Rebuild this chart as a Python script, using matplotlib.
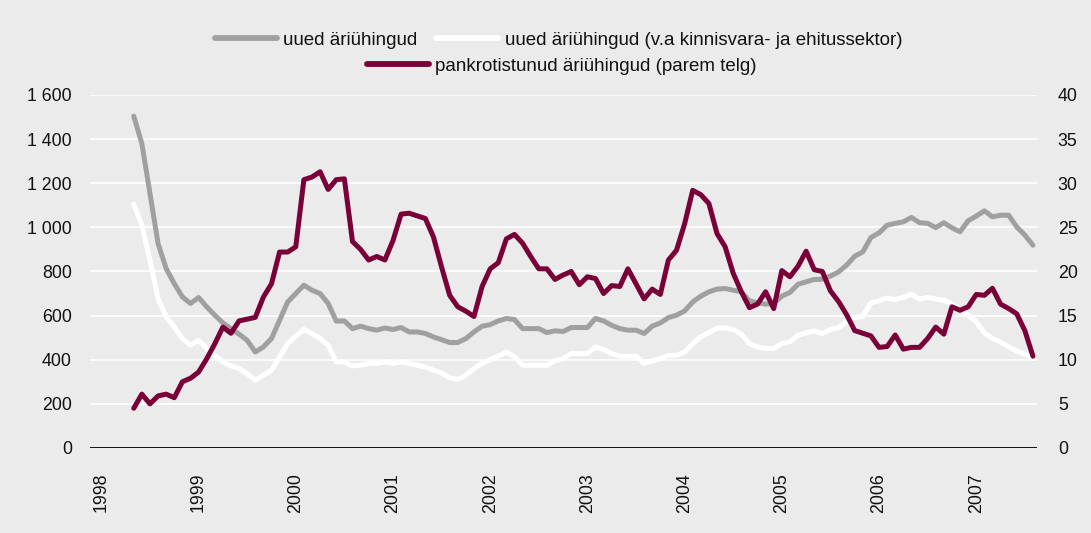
import numpy as np
import matplotlib
matplotlib.use('Agg')
import matplotlib.pyplot as plt
from matplotlib.lines import Line2D

plt.rcParams['font.family'] = ['Liberation Sans', 'DejaVu Sans']

# monthly data, May 1998 .. Aug 2007 (month index 0 = Jan 1998)
start_month = 4
years = ['1998', '1999', '2000', '2001', '2002', '2003', '2004', '2005', '2006', '2007']

uued = [1504, 1380, 1154, 927, 813, 745, 685, 655, 682, 640, 602, 567, 541, 516, 488, 435,
        458, 496, 579, 662, 700, 738, 715, 700, 655, 575,
        576, 541, 552, 541, 534, 544, 537, 546, 526, 526, 519, 503, 491, 478, 478, 496,
        526, 552, 559, 576, 587, 582, 541, 541, 541, 523, 531, 528, 546, 546,
        546, 587, 576, 556, 541, 534, 534, 519, 552, 567, 591, 602, 621, 662, 688, 708,
        720, 723, 715, 708, 667, 658, 652, 655, 688, 705, 742, 753, 764,
        765, 779, 798, 829, 869, 889, 954, 975, 1010, 1018, 1025, 1045, 1021, 1018, 999,
        1021, 998, 980, 1030, 1051, 1075, 1048, 1055, 1055, 1002, 965, 919]

uued_va = [1105, 1010, 851, 677, 594, 549, 496, 466, 488, 451, 420, 390, 372, 360, 337, 307,
           330, 352, 413, 473, 507, 537, 519, 496, 466, 390,
           390, 372, 375, 383, 383, 390, 383, 390, 383, 375, 367, 352, 340, 318, 310, 330,
           360, 383, 401, 416, 435, 413, 375, 375, 375, 375, 395, 405, 428, 428,
           428, 458, 446, 428, 416, 416, 416, 383, 395, 405, 420, 420, 435, 473, 504, 522,
           544, 544, 537, 516, 473, 458, 451, 451, 473, 481, 511, 522, 531,
           519, 537, 546, 572, 591, 597, 658, 667, 680, 673, 682, 697, 675, 682, 675,
           670, 652, 627, 602, 572, 522, 496, 481, 458, 440, 425, 410]

pankrot = [4.5, 6.1, 5.0, 5.9, 6.1, 5.7, 7.5, 7.9, 8.6, 10.1, 11.8, 13.7, 13.0, 14.4, 14.6,
           14.8, 17.1, 18.6, 22.2, 22.2, 22.8, 30.4, 30.7, 31.3, 29.3, 30.4,
           30.5, 23.4, 22.5, 21.3, 21.7, 21.3, 23.5, 26.5, 26.6, 26.3, 26.0, 23.9, 20.5,
           17.3, 16.0, 15.5, 14.9, 18.3, 20.3, 21.0, 23.7, 24.2, 23.2, 21.7, 20.3, 20.3,
           19.1, 19.6, 20.0, 18.5,
           19.4, 19.2, 17.5, 18.4, 18.3, 20.3, 18.6, 16.9, 18.0, 17.4, 21.3, 22.4, 25.4,
           29.2, 28.7, 27.7, 24.3, 22.8, 19.8, 17.7, 15.9, 16.3, 17.7, 15.8, 20.1, 19.4,
           20.6, 22.3, 20.2,
           20.0, 17.8, 16.6, 15.1, 13.3, 13.0, 12.7, 11.4, 11.5, 12.8, 11.2, 11.4, 11.4,
           12.4, 13.7, 12.9, 16.0, 15.6, 16.0, 17.4, 17.3, 18.1, 16.3, 15.8, 15.2, 13.3, 10.4]

labels = ['uued äriühingud',
          'uued äriühingud (v.a kinnisvara- ja ehitussektor)',
          'pankrotistunud äriühingud (parem telg)']

bg = '#ebebeb'
grey = '#a0a0a0'
maroon = '#7a0038'
txt = '#111111'

x = np.arange(len(uued)) + start_month

fig = plt.figure(figsize=(10.91, 5.33), dpi=100, facecolor=bg)
ax = fig.add_axes([0.0825, 0.1595, 0.868, 0.6623], facecolor=bg)
ax2 = ax.twinx()

for a in (ax, ax2):
    for s in a.spines.values():
        s.set_visible(False)
    a.tick_params(length=0, labelsize=12.8, colors=txt)

ax.set_ylim(0, 1600)
ax.set_yticks(np.arange(0, 1601, 200))
ax.set_yticklabels([f'{v:,}'.replace(',', ' ') for v in range(0, 1601, 200)])
ax.tick_params(axis='y', pad=13)
ax2.set_ylim(0, 40)
ax2.set_yticks(np.arange(0, 41, 5))
ax2.tick_params(axis='y', pad=15)

ax.set_xlim(-1.4, 115.5)
ax.set_xticks(np.arange(len(years)) * 12)
ax.set_xticklabels(years, rotation=90)
ax.tick_params(axis='x', pad=18)

ax.grid(axis='y', color='white', lw=1.2)
ax.set_axisbelow(True)
ax.axhline(0, color='#111111', lw=1.4, zorder=2)

ax.plot(x, uued, color=grey, lw=3.6, solid_capstyle='round', zorder=3)
ax.plot(x, uued_va, color='white', lw=3.6, solid_capstyle='round', zorder=3)
ax2.plot(x, pankrot, color=maroon, lw=3.6, solid_capstyle='round', zorder=3)

h1 = Line2D([], [], color=grey, lw=4.2, solid_capstyle='round')
h2 = Line2D([], [], color='white', lw=4.2, solid_capstyle='round')
h3 = Line2D([], [], color=maroon, lw=4.2, solid_capstyle='round')
leg_kw = dict(frameon=False, fontsize=13.5, handlelength=3.3, handletextpad=0.35,
              columnspacing=1.0, borderaxespad=0, borderpad=0, labelcolor=txt)
fig.legend([h1, h2], labels[:2], ncol=2, loc='center', bbox_to_anchor=(0.512, 0.925), **leg_kw)
fig.legend([h3], labels[2:], loc='center', bbox_to_anchor=(0.515, 0.876), **leg_kw)

fig.savefig('out.png', dpi=100, facecolor=bg)
